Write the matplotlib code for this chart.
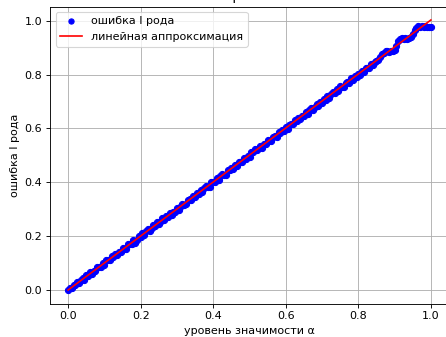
import matplotlib
matplotlib.use('Agg')
import matplotlib.pyplot as plt
import numpy as np

# significance level alpha (grid of levels)
alpha = [0.000, 0.005, 0.010, 0.015, 0.020, 0.025, 0.030, 0.035, 0.040, 0.045,
         0.050, 0.055, 0.060, 0.065, 0.070, 0.075, 0.080, 0.085, 0.090, 0.095,
         0.100, 0.105, 0.110, 0.115, 0.120, 0.125, 0.130, 0.135, 0.140, 0.145,
         0.150, 0.155, 0.160, 0.165, 0.170, 0.175, 0.180, 0.185, 0.190, 0.195,
         0.200, 0.205, 0.210, 0.215, 0.220, 0.225, 0.230, 0.235, 0.240, 0.245,
         0.250, 0.255, 0.260, 0.265, 0.270, 0.275, 0.280, 0.285, 0.290, 0.295,
         0.300, 0.305, 0.310, 0.315, 0.320, 0.325, 0.330, 0.335, 0.340, 0.345,
         0.350, 0.355, 0.360, 0.365, 0.370, 0.375, 0.380, 0.385, 0.390, 0.395,
         0.400, 0.405, 0.410, 0.415, 0.420, 0.425, 0.430, 0.435, 0.440, 0.445,
         0.450, 0.455, 0.460, 0.465, 0.470, 0.475, 0.480, 0.485, 0.490, 0.495,
         0.500, 0.505, 0.510, 0.515, 0.520, 0.525, 0.530, 0.535, 0.540, 0.545,
         0.550, 0.555, 0.560, 0.565, 0.570, 0.575, 0.580, 0.585, 0.590, 0.595,
         0.600, 0.605, 0.610, 0.615, 0.620, 0.625, 0.630, 0.635, 0.640, 0.645,
         0.650, 0.655, 0.660, 0.665, 0.670, 0.675, 0.680, 0.685, 0.690, 0.695,
         0.700, 0.705, 0.710, 0.715, 0.720, 0.725, 0.730, 0.735, 0.740, 0.745,
         0.750, 0.755, 0.760, 0.765, 0.770, 0.775, 0.780, 0.785, 0.790, 0.795,
         0.800, 0.805, 0.810, 0.815, 0.820, 0.825, 0.830, 0.835, 0.840, 0.845,
         0.850, 0.855, 0.860, 0.865, 0.870, 0.875, 0.880, 0.885, 0.890, 0.895,
         0.900, 0.905, 0.910, 0.915, 0.920, 0.925, 0.930, 0.935, 0.940, 0.945,
         0.950, 0.955, 0.960, 0.965, 0.970, 0.975, 0.980, 0.985, 0.990, 0.995,
         1.000]

# empirical type I error at each level
type1_error = [0.000, 0.008, 0.006, 0.020, 0.018, 0.031, 0.025, 0.036, 0.044, 0.039,
               0.055, 0.052, 0.066, 0.059, 0.072, 0.071, 0.086, 0.084, 0.085, 0.099,
               0.094, 0.110, 0.111, 0.110, 0.126, 0.122, 0.134, 0.129, 0.143, 0.143,
               0.156, 0.151, 0.154, 0.170, 0.172, 0.170, 0.186, 0.176, 0.186, 0.200,
               0.197, 0.211, 0.205, 0.218, 0.226, 0.219, 0.229, 0.240, 0.236, 0.251,
               0.245, 0.257, 0.266, 0.259, 0.274, 0.272, 0.286, 0.280, 0.291, 0.291,
               0.306, 0.299, 0.313, 0.320, 0.316, 0.319, 0.336, 0.337, 0.335, 0.349,
               0.344, 0.360, 0.358, 0.371, 0.365, 0.378, 0.386, 0.381, 0.384, 0.400,
               0.402, 0.400, 0.416, 0.409, 0.424, 0.430, 0.427, 0.429, 0.446, 0.444,
               0.455, 0.449, 0.463, 0.461, 0.476, 0.476, 0.475, 0.491, 0.487, 0.499,
               0.494, 0.511, 0.513, 0.525, 0.520, 0.528, 0.536, 0.529, 0.542, 0.541,
               0.556, 0.552, 0.554, 0.570, 0.571, 0.570, 0.586, 0.583, 0.594, 0.589,
               0.605, 0.599, 0.614, 0.617, 0.615, 0.631, 0.627, 0.640, 0.634, 0.648,
               0.646, 0.661, 0.654, 0.668, 0.675, 0.670, 0.681, 0.691, 0.684, 0.699,
               0.695, 0.710, 0.707, 0.721, 0.714, 0.727, 0.735, 0.731, 0.746, 0.740,
               0.756, 0.753, 0.754, 0.770, 0.773, 0.770, 0.786, 0.779, 0.794, 0.792,
               0.804, 0.799, 0.815, 0.811, 0.826, 0.823, 0.824, 0.838, 0.835, 0.847,
               0.850, 0.856, 0.866, 0.875, 0.882, 0.886, 0.889, 0.884, 0.888, 0.886,
               0.893, 0.908, 0.924, 0.932, 0.936, 0.933, 0.937, 0.934, 0.936, 0.938,
               0.950, 0.966, 0.975, 0.979, 0.977, 0.980, 0.977, 0.979, 0.976, 0.978,
               0.977]

# linear approximation endpoints
fit_x = [0.0, 1.0]
fit_y = [0.0, 1.003]

fig = plt.figure(figsize=(446 / 80, 337 / 80), dpi=80)
ax = fig.add_axes([50 / 446, 33.5 / 337, 399 / 446, 297 / 337])

ax.plot(alpha, type1_error, 'bo', markersize=5.5, label='ошибка I рода')
ax.plot(fit_x, fit_y, 'r-', label='линейная аппроксимация')

ax.set_title('Кривая')
ax.set_xlabel('уровень значимости α')
ax.set_ylabel('ошибка I рода')
ax.grid(True)
ax.legend(loc='upper left', markerscale=0.85)

fig.savefig('out.png', dpi=80)
